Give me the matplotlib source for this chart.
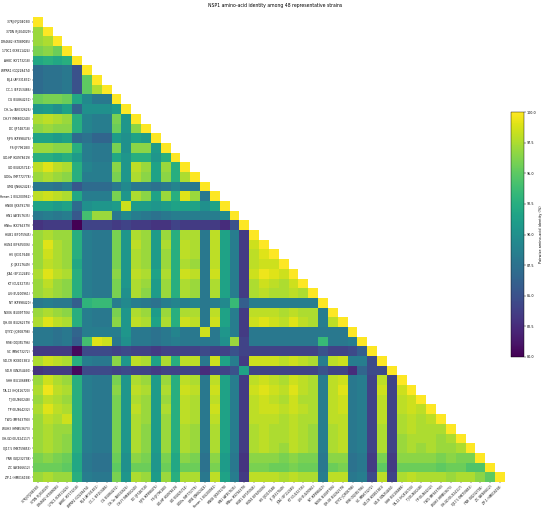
import numpy as np
import matplotlib
matplotlib.use('Agg')
import matplotlib.pyplot as plt

# Strain names (row / column order of the matrix)
strains = [
    '37RJ (FJ204030)', '37DN (FJ204029)', 'DR4682 (KT089085)', '170C1 (KX811424)',
    'AH8C (KY173218)', 'WPRR1 (GQ228474)', 'BJ-4 (AF331831)', 'CC-1 (EF153486)',
    'CG (EU864231)', 'CH-1a (AY032626)', 'CH-YY (MK800240)', 'DC (JF748718)',
    'FJFS (KP998476)', 'FS (JF796180)', 'GD-HP (KU978619)', 'GD (EU825724)',
    'GDGu (MF772778)', 'GM2 (JN662424)', 'Henan-1 (EU200962)', 'HN08 (JX679178)',
    'HN1 (AY457635)', 'HNhx (KX766379)', 'HUB1 (EF075945)', 'HUN4 (EF635006)',
    'HV (JX317648)', 'JX (JX317649)', 'JXA1 (EF112445)', 'KT (GU232735)',
    'LN (EU200961)', 'NT (KP998420)', 'NX06 (EU097706)', 'QH-08 (EU262579)',
    'QYYZ (JQ308798)', 'R98 (DQ355796)', 'SC (MN073272)', 'SD-CR (KX815381)',
    'SD-R (GN254450)', 'SHH (EU106888)', 'TA-12 (HQ416720)', 'TJ (EU860248)',
    'TP (EU864232)', 'TWG (MF563790)', 'WUH3 (HM853673)', 'XH-GD (EU624117)',
    'XJ17-5 (MK759853)', 'YNR (GQ232738)', 'ZC (AY466612)', 'ZP-1 (HM016158)',
]

# Lower triangle of pairwise identity (%), row i holds columns 0..i
identity_rows = [
    [100],
    [97, 100],
    [97, 97.5, 100],
    [96, 96.5, 95.5, 100],
    [92, 92.5, 92, 92.5, 100],
    [87, 87.5, 87.5, 88, 85, 100],
    [87, 87.5, 87.5, 88, 85, 95, 100],
    [87, 87.5, 87.5, 88, 85, 95, 97.5, 100],
    [95.5, 96, 96, 95.5, 92, 89.5, 88, 88, 100],
    [90.5, 91, 90, 91.5, 86.5, 90, 90, 90, 91, 100],
    [97.5, 98, 97.5, 97, 92.5, 89, 88.5, 88.5, 96, 90.5, 100],
    [96.5, 97, 96.5, 96.5, 92.5, 89, 88.5, 88.5, 95.5, 90.5, 96.5, 100],
    [91.5, 91.5, 91, 91.5, 87, 87.5, 86.5, 86.5, 91, 90, 91.5, 91, 100],
    [97, 97, 96.5, 96.5, 92.5, 88.5, 88, 88, 96, 90, 96.5, 96.5, 91, 100],
    [92.5, 92.5, 92, 92.5, 91, 88.5, 88, 88, 92, 90.5, 92.5, 92.5, 90.5, 92.5, 100],
    [98, 99, 98, 97.5, 92.5, 89, 88.5, 88.5, 96.5, 90.5, 98, 97, 91.5, 97, 92.5, 100],
    [97, 97.5, 97, 96.5, 92.5, 88.5, 88.5, 88.5, 96, 90.5, 97.5, 96.5, 91.5, 96.5, 92.5, 97.5, 100],
    [88, 88, 87.5, 88.5, 85.5, 87, 87, 87, 88, 89.5, 88, 88, 87.5, 88, 89, 88, 88, 100],
    [98, 98.5, 98, 97.5, 92, 88.5, 88.5, 88.5, 96, 90.5, 97.5, 96.5, 91.5, 97, 92.5, 99, 97, 88, 100],
    [91.5, 91.5, 91, 91.5, 87, 90, 90.5, 90.5, 91, 98.5, 91, 91, 90.5, 91, 91.5, 91.5, 91.5, 90, 91.5, 100],
    [88, 88.5, 88, 88.5, 85.5, 94, 97, 97, 88, 89.5, 88.5, 88, 87.5, 88, 88.5, 88.5, 88.5, 88.5, 88.5, 89.5, 100],
    [83, 83.5, 83.5, 83.5, 80, 84, 84, 84, 83.5, 84, 83.5, 83.5, 83, 83, 84, 83.5, 83.5, 83.5, 83.5, 82.5, 85, 100],
    [97, 97.5, 97, 97, 92.5, 88.5, 88, 88, 96, 90.5, 97.5, 97, 91, 97, 92.5, 97.5, 97.5, 88, 98, 91.5, 88.5, 83.5, 100],
    [97, 99, 97.5, 97, 92.5, 88.5, 88, 88, 96, 90.5, 98, 97, 91, 97.5, 92.5, 98, 97.5, 88, 98, 91.5, 88.5, 83.5, 98.5, 100],
    [97, 98.5, 97.5, 97, 92.5, 88.5, 88, 88, 96, 90.5, 97.5, 97, 91, 97, 92.5, 98, 97.5, 88, 98, 91.5, 88.5, 83.5, 98, 99, 100],
    [97, 98, 97.5, 97, 92, 88.5, 88, 88, 96, 90.5, 97.5, 97, 91, 97, 92.5, 97.5, 97, 88, 98, 91.5, 88.5, 83.5, 98, 98.5, 98.5, 100],
    [97.5, 99, 98, 97.5, 92.5, 88.5, 88, 88, 96.5, 90.5, 98, 97.5, 91.5, 97.5, 92.5, 98.5, 98, 88, 98.5, 91.5, 88.5, 83.5, 98.5, 99.5, 99, 98.5, 100],
    [97, 98, 97, 96.5, 92.5, 88.5, 88, 88, 96, 90.5, 97.5, 97, 91, 97, 92.5, 97.5, 97, 88, 97.5, 91.5, 88.5, 83.5, 97.5, 98.5, 98, 97.5, 98.5, 100],
    [97, 97.5, 97, 96.5, 92.5, 88.5, 88, 88, 96, 90, 97.5, 96.5, 91, 97, 92.5, 97.5, 97, 88, 97.5, 91.5, 88.5, 83.5, 97.5, 98, 97.5, 97.5, 98, 97.5, 100],
    [88, 88.5, 88, 88, 86, 93, 93.5, 93.5, 88.5, 89.5, 88.5, 88, 87.5, 88.5, 89, 88.5, 89, 88, 88.5, 89.5, 93.5, 86, 88.5, 88.5, 88.5, 88.5, 88.5, 88.5, 88.5, 100],
    [97, 97.5, 97, 96.5, 92.5, 88.5, 88, 88, 96, 90.5, 97.5, 97, 91, 97, 92.5, 97.5, 97.5, 88, 98, 91.5, 88.5, 83.5, 98, 98, 98, 97.5, 98, 97.5, 97.5, 88.5, 100],
    [97.5, 99, 98, 97.5, 92.5, 88.5, 88, 88, 96.5, 90.5, 98, 97.5, 91.5, 97.5, 92.5, 98.5, 98, 88, 98.5, 91.5, 88.5, 83.5, 98.5, 99, 98.5, 98, 99, 98, 97.5, 88.5, 98, 100],
    [88, 88, 87.5, 88, 86.5, 88.5, 88.5, 88.5, 88.5, 90.5, 88, 88, 87.5, 88, 89, 88, 88, 98.5, 88, 90.5, 88.5, 83.5, 88, 88, 88, 88, 88, 88, 88, 88, 88, 88, 100],
    [88, 88, 87.5, 88, 86, 94, 99, 98.5, 88, 90, 88, 88, 87.5, 88, 88.5, 88, 88, 88, 88, 90, 97, 84, 88, 88, 88, 88, 88, 88, 88, 93.5, 88, 88, 88.5, 100],
    [83.5, 83.5, 83.5, 83.5, 80.5, 84.5, 84.5, 84.5, 84, 84.5, 84, 84, 83.5, 84, 84, 84, 84, 84.5, 84, 84, 85, 84, 84, 84, 84, 84, 84, 84, 84, 85, 84, 84, 84.5, 86, 100],
    [97.5, 98.5, 98, 97.5, 92.5, 88.5, 88, 88, 96.5, 90.5, 98, 97.5, 91.5, 97.5, 92.5, 98, 98, 88, 98.5, 91.5, 88.5, 83.5, 98.5, 98.5, 98.5, 98, 98.5, 98, 97.5, 88.5, 98, 98.5, 88.5, 88.5, 84.5, 100],
    [83, 83.5, 83.5, 83.5, 80.5, 84.5, 84.5, 84.5, 84, 84.5, 84, 84, 83.5, 84, 84, 84, 84, 82.5, 84, 84, 85, 91.5, 84, 84, 84, 84, 84, 84, 84, 85, 84, 84, 82.5, 86.5, 84.5, 84.5, 100],
    [97, 98.5, 97.5, 97, 92.5, 88.5, 88, 88, 96, 90.5, 97.5, 97, 91, 97, 92.5, 98, 97.5, 88, 98, 91.5, 88.5, 83.5, 98, 98.5, 98, 97.5, 98.5, 98, 97.5, 88.5, 98, 98.5, 88, 88.5, 84, 98, 84, 100],
    [97.5, 99.5, 98, 97.5, 92.5, 88.5, 88, 88, 96.5, 90.5, 98, 97.5, 91, 97.5, 92.5, 98.5, 98, 88, 98.5, 91.5, 88.5, 83.5, 98.5, 99, 98.5, 98, 99, 98, 97.5, 88.5, 98, 99, 88, 88.5, 84, 98.5, 84, 98.5, 100],
    [97, 98, 97.5, 97, 92.5, 88.5, 88, 88, 96, 90.5, 97.5, 97, 91, 97, 92.5, 98, 97.5, 88, 98, 91.5, 88.5, 83.5, 98, 98.5, 98, 97.5, 98.5, 97.5, 97.5, 88.5, 98, 98.5, 88, 88.5, 84, 98, 84, 98, 98.5, 100],
    [97.5, 99, 98, 97.5, 92.5, 88.5, 88, 88, 96, 90.5, 98, 97, 91, 97.5, 92.5, 98, 97.5, 88, 98.5, 91.5, 88.5, 83.5, 98, 98.5, 98.5, 98, 98.5, 98, 97.5, 88.5, 98, 98.5, 88, 88.5, 84, 98, 84, 98, 98.5, 98, 100],
    [97, 98, 97.5, 98.5, 92.5, 88.5, 88, 88, 96, 90.5, 97.5, 97, 91, 97, 92.5, 98, 97.5, 88, 98, 91.5, 88.5, 83.5, 98, 98, 98, 97.5, 98, 97.5, 97.5, 88.5, 98, 98, 88, 88.5, 84, 98, 84, 97.5, 98, 97.5, 98, 100],
    [97, 97.5, 97, 97, 92.5, 88.5, 88, 88, 96, 90.5, 97.5, 96.5, 91, 97, 92.5, 97.5, 97, 88, 97.5, 91.5, 88.5, 83.5, 97.5, 98, 97.5, 97.5, 98, 97.5, 97, 88.5, 97.5, 98, 88, 88.5, 84, 97.5, 84, 97.5, 98, 97.5, 97.5, 97.5, 100],
    [97, 97.5, 97, 96.5, 92.5, 88.5, 88, 88, 96, 90.5, 97.5, 96.5, 91, 97, 92.5, 97.5, 97, 88, 97.5, 91.5, 88.5, 83.5, 97.5, 98, 97.5, 97.5, 98, 97.5, 97, 88.5, 97.5, 98, 88, 88.5, 84, 97.5, 84, 97, 97.5, 97.5, 97.5, 97, 97.5, 100],
    [97, 97.5, 97, 96.5, 92.5, 88.5, 88, 88, 96, 90.5, 97.5, 96.5, 91, 97, 92.5, 97.5, 97, 88, 97.5, 91.5, 88.5, 83.5, 97.5, 98, 97.5, 97, 98, 97.5, 97, 88.5, 97.5, 98, 88, 88.5, 84, 97.5, 84, 97, 97.5, 97, 97.5, 97, 97, 97.5, 100],
    [96, 96.5, 96, 95.5, 92, 88, 87.5, 87.5, 95.5, 90, 96.5, 96, 90.5, 96, 92, 96.5, 96, 87.5, 96.5, 91, 88, 83, 96.5, 96.5, 96.5, 96, 96.5, 96, 96, 88, 96.5, 96.5, 87.5, 88, 83.5, 96, 83.5, 96.5, 96.5, 96.5, 96.5, 96, 96.5, 96, 96, 100],
    [95.5, 95.5, 95.5, 95, 92, 88, 87.5, 87.5, 95, 90, 95.5, 95.5, 90.5, 95.5, 92, 95.5, 95.5, 87.5, 96, 91, 88, 83, 96, 96, 95.5, 95.5, 96, 95.5, 95.5, 88, 95.5, 96, 87.5, 88, 83.5, 95, 83.5, 95.5, 95.5, 95.5, 95.5, 95, 95.5, 95.5, 94.5, 94.5, 100],
    [97, 97.5, 97, 97, 92.5, 88.5, 88, 88, 96, 90.5, 97.5, 97, 91, 97, 92.5, 97.5, 97.5, 88, 98, 91.5, 88.5, 83.5, 98, 98, 98, 97.5, 98, 97.5, 97.5, 88.5, 98, 98, 88, 88.5, 84.5, 98, 84, 97.5, 98, 97.5, 97.5, 97.5, 97, 97.5, 97.5, 96.5, 95, 100],
]

n = len(strains)
mat = np.full((n, n), np.nan)
for i, row in enumerate(identity_rows):
    assert len(row) == i + 1, (i, len(row))
    mat[i, :i + 1] = row

masked = np.ma.masked_invalid(mat)

fig = plt.figure(figsize=(5.5, 5.12), dpi=100)
ax = fig.add_axes([33 / 550, 1 - 482 / 512, 472 / 550, 465 / 512])
im = ax.imshow(masked, cmap='viridis', vmin=80, vmax=100,
               aspect='auto', interpolation='nearest')

ax.set_xticks(range(n))
ax.set_yticks(range(n))
ax.set_xticklabels(strains, rotation=45, ha='right', rotation_mode='anchor', fontsize=2.1)
ax.set_yticklabels(strains, fontsize=2.1)
ax.tick_params(length=1, width=0.3, pad=1)
for side in ax.spines.values():
    side.set_visible(False)

fig.text(0.5, 1 - 6 / 512, 'NSP1 amino-acid identity among 48 representative strains',
         ha='center', va='center', fontsize=3.3)

# colour bar on the right
cax = fig.add_axes([511 / 550, 1 - 357 / 512, 13 / 550, 245 / 512])
cb = fig.colorbar(im, cax=cax)
cb.set_ticks(np.arange(80, 100.1, 2.5))
cb.ax.tick_params(labelsize=2.4, length=1.2, width=0.3, pad=1)
cb.outline.set_linewidth(0.3)
cb.set_label('Pairwise amino-acid identity (%)', fontsize=2.5, labelpad=2)

fig.savefig('out.png', dpi=100)
